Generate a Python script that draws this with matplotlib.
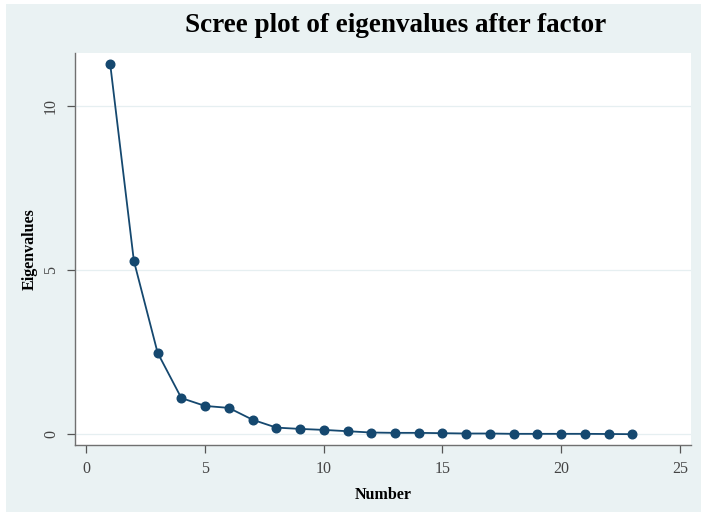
import matplotlib.pyplot as plt
import matplotlib.patches as patches

# eigenvalues from the factor analysis, one per factor
number = list(range(1, 24))
eigenvalues = [11.29, 5.28, 2.48, 1.10, 0.86, 0.80, 0.44, 0.20, 0.16, 0.13,
               0.09, 0.05, 0.04, 0.04, 0.03, 0.02, 0.02, 0.01, 0.01, 0.01,
               0.01, 0.005, 0.0]
xticks = [0, 5, 10, 15, 20, 25]
yticks = [0, 5, 10]

W, H = 701, 512
navy = '#15486f'
bg = '#eaf2f3'

plt.rcParams['font.family'] = ['Liberation Serif', 'DejaVu Serif']

fig = plt.figure(figsize=(W / 100, H / 100), dpi=100)
fig.patch.set_facecolor('white')
fig.patches.append(patches.Rectangle((6 / W, 0), 1 - 6 / W, 1 - 4 / H,
                                     transform=fig.transFigure,
                                     facecolor=bg, edgecolor='none', zorder=-1))

ax = fig.add_axes([75 / W, (H - 445) / H, (691 - 75) / W, (445 - 53) / H])
ax.set_facecolor('white')

ax.plot(number, eigenvalues, '-o', color=navy, lw=1.3, markersize=6.2)

ax.set_xlim(-0.48, 25.47)
ax.set_ylim(-0.33, 11.61)
ax.set_xticks(xticks)
ax.set_yticks(yticks)
ax.grid(axis='y', color='#e6eff1', lw=0.9)
ax.set_axisbelow(True)

for s in ['top', 'right']:
    ax.spines[s].set_visible(False)
for s in ['left', 'bottom']:
    ax.spines[s].set_color('#707070')
    ax.spines[s].set_linewidth(1.0)

ax.tick_params(axis='both', length=5.5, width=0.9, color='#555555',
               labelsize=11.5, labelcolor='#444444', pad=6)
plt.setp(ax.get_yticklabels(), rotation=90, va='center')

ax.set_xlabel('Number', fontsize=11.5, fontweight='bold', labelpad=7)
ax.set_ylabel('Eigenvalues', fontsize=11.5, fontweight='bold', labelpad=3.5)

fig.text(396 / W, 1 - 26 / H, 'Scree plot of eigenvalues after factor',
         ha='center', va='center', fontsize=19.5, fontweight='bold')

fig.savefig('out.png', dpi=100)
